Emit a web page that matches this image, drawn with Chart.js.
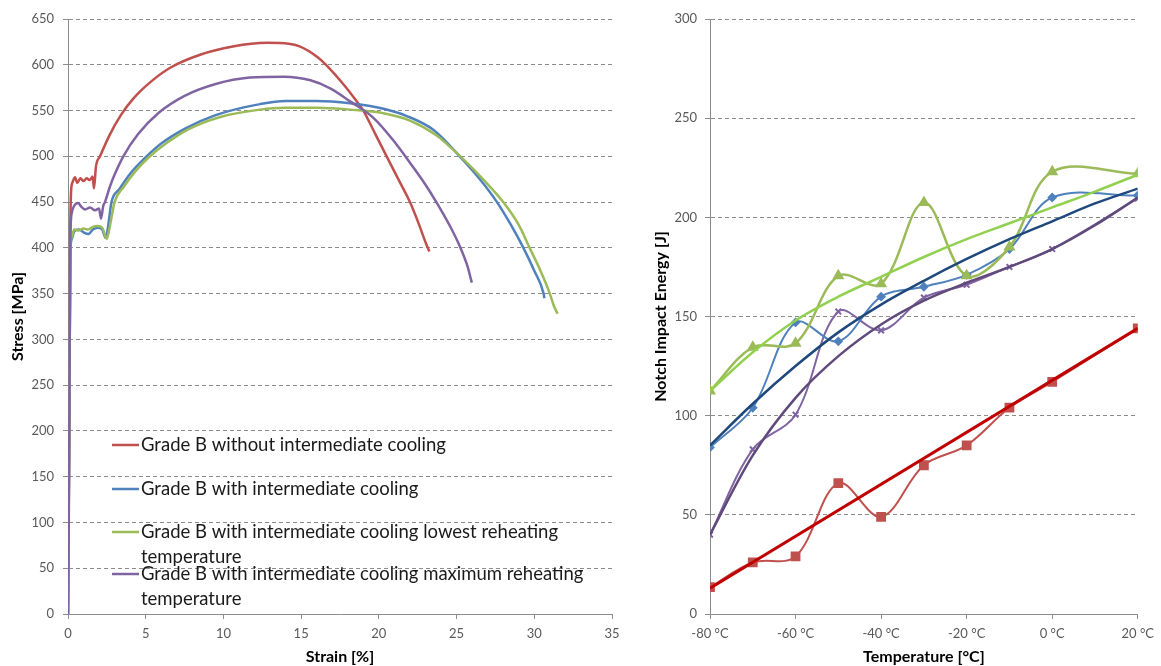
<!DOCTYPE html>
<html>
<head>
<meta charset="utf-8">
<script src="https://cdn.jsdelivr.net/npm/chart.js@4.4.1/dist/chart.umd.min.js"></script>
<style>
  html, body { margin: 0; padding: 0; background: #fff; }
  #wrap { position: relative; width: 1161px; height: 666px; }
  #leftBox  { position: absolute; left: 0;     top: 0; width: 640px; height: 666px; }
  #rightBox { position: absolute; left: 640px; top: 0; width: 521px; height: 666px; }
</style>
</head>
<body>
<div id="wrap">
  <div id="leftBox"><canvas id="stressChart"></canvas></div>
  <div id="rightBox"><canvas id="impactChart"></canvas></div>
</div>
<script>
// ---- left: stress / strain curves ----
const seriesNames = [
  "Grade B without intermediate cooling",
  "Grade B with intermediate cooling",
  "Grade B with intermediate cooling lowest reheating temperature",
  "Grade B with intermediate cooling maximum reheating temperature"
];
const legendLines = [
  ["Grade B without intermediate cooling"],
  ["Grade B with intermediate cooling"],
  ["Grade B with intermediate cooling lowest reheating", "temperature"],
  ["Grade B with intermediate cooling maximum reheating", "temperature"]
];

const redStrain = [0, 0.08, 0.15, 0.2, 0.3, 0.45, 0.6, 0.8, 1.0, 1.2, 1.4, 1.58, 1.67, 1.8, 2.06, 2.7, 3.4, 4.2, 5.3, 6.6, 8.5, 10.6, 12.8, 14.2, 14.9, 16.0, 16.6, 17.2, 17.8, 18.4, 19.0, 19.75, 20.5, 21.25, 22.0, 22.55, 23.05, 23.25];
const redStress = [0, 200, 420, 462, 472, 477, 471, 476, 473, 476, 474, 478, 465, 489, 500, 524, 545, 563, 581, 597, 611, 620, 624, 623, 620, 609, 600, 589, 577, 564, 550, 525, 500, 475, 450, 427, 404, 396];

const blueStrain = [0, 0.08, 0.15, 0.25, 0.4, 0.7, 1.0, 1.3, 1.6, 1.9, 2.2, 2.42, 2.55, 2.8, 3.3, 4.0, 5.0, 6.0, 7.5, 9.5, 12.35, 14.0, 16.0, 18.15, 20.3, 21.8, 23.5, 25.2, 26.5, 27.6, 28.5, 29.3, 30.0, 30.6, 30.65];
const blueStress = [0, 200, 395, 410, 418, 420, 417, 415, 420, 422, 420, 411, 420, 450, 464, 481, 499, 514, 530, 545, 557, 560.5, 560.5, 558, 552, 544, 529, 500, 475, 450, 425, 400, 375, 350, 345];

const greenStrain = [0, 0.08, 0.15, 0.25, 0.4, 0.7, 1.0, 1.3, 1.6, 1.9, 2.2, 2.5, 2.65, 3.0, 3.6, 4.3, 5.2, 6.3, 7.8, 9.8, 12.35, 14.0, 16.0, 18.15, 20.3, 22.0, 23.7, 24.6, 25.25, 26.7, 28.0, 29.0, 29.7, 30.4, 31.0, 31.25, 31.5];
const greenStress = [0, 200, 398, 412, 420, 419, 421, 420, 423, 424, 422, 410, 420, 450, 467, 483, 499, 514, 530, 543, 551, 553, 553, 551, 547, 539, 523, 510, 500, 475, 450, 425, 400, 375, 350, 337, 328];

const purpleStrain = [0, 0.05, 0.1, 0.15, 0.24, 0.4, 0.66, 0.85, 1.1, 1.42, 1.74, 2.0, 2.12, 2.27, 2.38, 2.7, 3.0, 3.56, 4.5, 5.8, 7.5, 9.5, 11.7, 13.9, 15.6, 16.9, 18.15, 19.65, 20.9, 22.0, 23.0, 23.7, 24.6, 25.2, 25.7, 25.98];
const purpleStress = [0, 100, 260, 410, 438, 446, 449, 445, 442, 444, 441, 443, 432, 446, 450, 467, 480, 500, 524, 547, 566, 579, 586, 587, 583, 574, 560, 542, 518, 493, 469, 450, 423, 402, 380, 362];

const strainTicks = [0, 5, 10, 15, 20, 25, 30, 35];
const stressTicks = [0, 50, 100, 150, 200, 250, 300, 350, 400, 450, 500, 550, 600, 650];

// ---- right: notch impact energy ----
const temps = [-80, -70, -60, -50, -40, -30, -20, -10, 0, 20];
const energyRed    = [13.5, 26, 29, 66, 49, 75, 85, 104, 117, 144];
const energyBlue   = [84, 104, 147, 137.5, 160, 165, 171, 184, 210, 211];
const energyGreen  = [112.5, 134.5, 136.5, 170.5, 166.5, 207.5, 170.5, 185, 223, 222];
const energyPurple = [40, 83, 100.5, 152.5, 143, 159.5, 166, 175, 184, 209.5];

const trendTemps = [-80, -70, -60, -50, -40, -30, -20, -10, 0, 10, 20];
const trendBlue   = [85, 106, 125, 142, 156, 168, 179, 189, 198, 207, 214.5];
const trendGreen  = [112.5, 132, 148, 160, 170, 180, 189, 197, 205, 213, 221.5];
const trendPurple = [40, 80, 109, 130, 146, 158, 167, 175, 184, 196, 210];
const trendRedTemps = [-80, 20];
const trendRed      = [13, 144];

const tempTicks = [-80, -60, -40, -20, 0, 20];
const energyTicks = [0, 50, 100, 150, 200, 250, 300];

const colors = ["#C0504D", "#4F81BD", "#9BBB59", "#8064A2"];
const trendColors = ["#C00000", "#1F497D", "#92D050", "#604A7B"];

const pts = (xs, ys) => xs.map((x, i) => ({ x: x, y: ys[i] }));

const tickFont  = { family: "Lato", size: 13 };
const titleFont = { family: "Lato", size: 16, weight: "bold" };
const gridGray  = "#8c8c8c";

function xAxis(min, max, step, title, fmt, height) {
  return {
    type: "linear", min: min, max: max,
    ticks: { stepSize: step, color: "#595959", font: tickFont, padding: 7, maxRotation: 0,
             callback: fmt || (v => v) },
    grid: { drawOnChartArea: false, drawTicks: true, tickLength: 5, color: gridGray },
    border: { color: gridGray, width: 1 },
    title: { display: true, text: title, color: "#000", font: titleFont, padding: { top: 0, bottom: 0 } },
    afterFit: s => { s.height = height; }
  };
}
function yAxis(max, step, title, width, titlePad, tickPad) {
  return {
    type: "linear", min: 0, max: max,
    ticks: { stepSize: step, color: "#595959", font: tickFont, padding: tickPad },
    grid: { drawTicks: true, tickLength: 5, color: gridGray, lineWidth: 1 },
    border: { color: gridGray, width: 1, dash: [4, 3] },
    title: { display: true, text: title, color: "#000", font: titleFont, padding: { top: titlePad, bottom: 0 } },
    afterFit: s => { s.width = width; }
  };
}

// legend drawn inside the plot, wrapped like the original
const stressLegend = {
  id: "stressLegend",
  afterDraw(chart) {
    const ctx = chart.ctx;
    const rows = [445, 489, 532, 574];
    ctx.save();
    ctx.font = "18.5px Lato";
    ctx.textBaseline = "middle";
    ctx.textAlign = "left";
    legendLines.forEach((lines, i) => {
      ctx.strokeStyle = colors[i];
      ctx.lineWidth = 2.5;
      ctx.beginPath();
      ctx.moveTo(112, rows[i]);
      ctx.lineTo(139, rows[i]);
      ctx.stroke();
      ctx.fillStyle = "#1a1a1a";
      lines.forEach((t, k) => ctx.fillText(t, 141, rows[i] + k * 25));
    });
    ctx.restore();
  }
};

new Chart(document.getElementById("stressChart"), {
  type: "line",
  data: {
    datasets: [
      { label: seriesNames[0], data: pts(redStrain, redStress),       borderColor: colors[0], order: 4 },
      { label: seriesNames[1], data: pts(blueStrain, blueStress),     borderColor: colors[1], order: 3 },
      { label: seriesNames[2], data: pts(greenStrain, greenStress),   borderColor: colors[2], order: 2 },
      { label: seriesNames[3], data: pts(purpleStrain, purpleStress), borderColor: colors[3], order: 1 }
    ]
  },
  options: {
    responsive: true,
    maintainAspectRatio: false,
    animation: false,
    events: [],
    layout: { padding: { left: 0, right: 28, top: 19, bottom: 0 } },
    elements: {
      line: { borderWidth: 2.5, cubicInterpolationMode: "monotone", fill: false },
      point: { radius: 0 }
    },
    plugins: { legend: { display: false }, tooltip: { enabled: false } },
    scales: {
      x: xAxis(strainTicks[0], strainTicks[strainTicks.length - 1], 5, "Strain [%]", null, 52),
      y: yAxis(stressTicks[stressTicks.length - 1], 50, "Stress [MPa]", 68, 8, 9)
    }
  },
  plugins: [stressLegend]
});

new Chart(document.getElementById("impactChart"), {
  type: "line",
  data: {
    datasets: [
      { label: "red",    data: pts(temps, energyRed),    borderColor: colors[0], backgroundColor: colors[0],
        pointStyle: "rect", pointRadius: 5.5, borderWidth: 2, order: 6 },
      { label: "blue",   data: pts(temps, energyBlue),   borderColor: colors[1], backgroundColor: colors[1],
        pointStyle: "rectRot", pointRadius: 3.5, borderWidth: 2, order: 7 },
      { label: "green",  data: pts(temps, energyGreen),  borderColor: colors[2], backgroundColor: colors[2],
        pointStyle: "triangle", pointRadius: 4.5, borderWidth: 2.5, order: 5 },
      { label: "purple", data: pts(temps, energyPurple), borderColor: colors[3], backgroundColor: colors[3],
        pointStyle: "crossRot", pointRadius: 4, borderWidth: 2, order: 8 },
      { label: "red trend",    data: pts(trendRedTemps, trendRed),  borderColor: trendColors[0], borderWidth: 3, pointRadius: 0, tension: 0, order: 1 },
      { label: "blue trend",   data: pts(trendTemps, trendBlue),    borderColor: trendColors[1], borderWidth: 2.5, pointRadius: 0, order: 2 },
      { label: "green trend",  data: pts(trendTemps, trendGreen),   borderColor: trendColors[2], borderWidth: 2.5, pointRadius: 0, order: 3 },
      { label: "purple trend", data: pts(trendTemps, trendPurple),  borderColor: trendColors[3], borderWidth: 2.5, pointRadius: 0, order: 4 }
    ]
  },
  options: {
    responsive: true,
    maintainAspectRatio: false,
    animation: false,
    events: [],
    layout: { padding: { left: 0, right: 22, top: 19, bottom: 0 } },
    elements: { line: { tension: 0.35, fill: false } },
    plugins: { legend: { display: false }, tooltip: { enabled: false } },
    scales: {
      x: xAxis(tempTicks[0], tempTicks[tempTicks.length - 1], 20, "Temperature [°C]", v => v + " °C", 52),
      y: yAxis(energyTicks[energyTicks.length - 1], 50, "Notch Impact Energy [J]", 70, 11, 8)
    }
  }
});
</script>
</body>
</html>
